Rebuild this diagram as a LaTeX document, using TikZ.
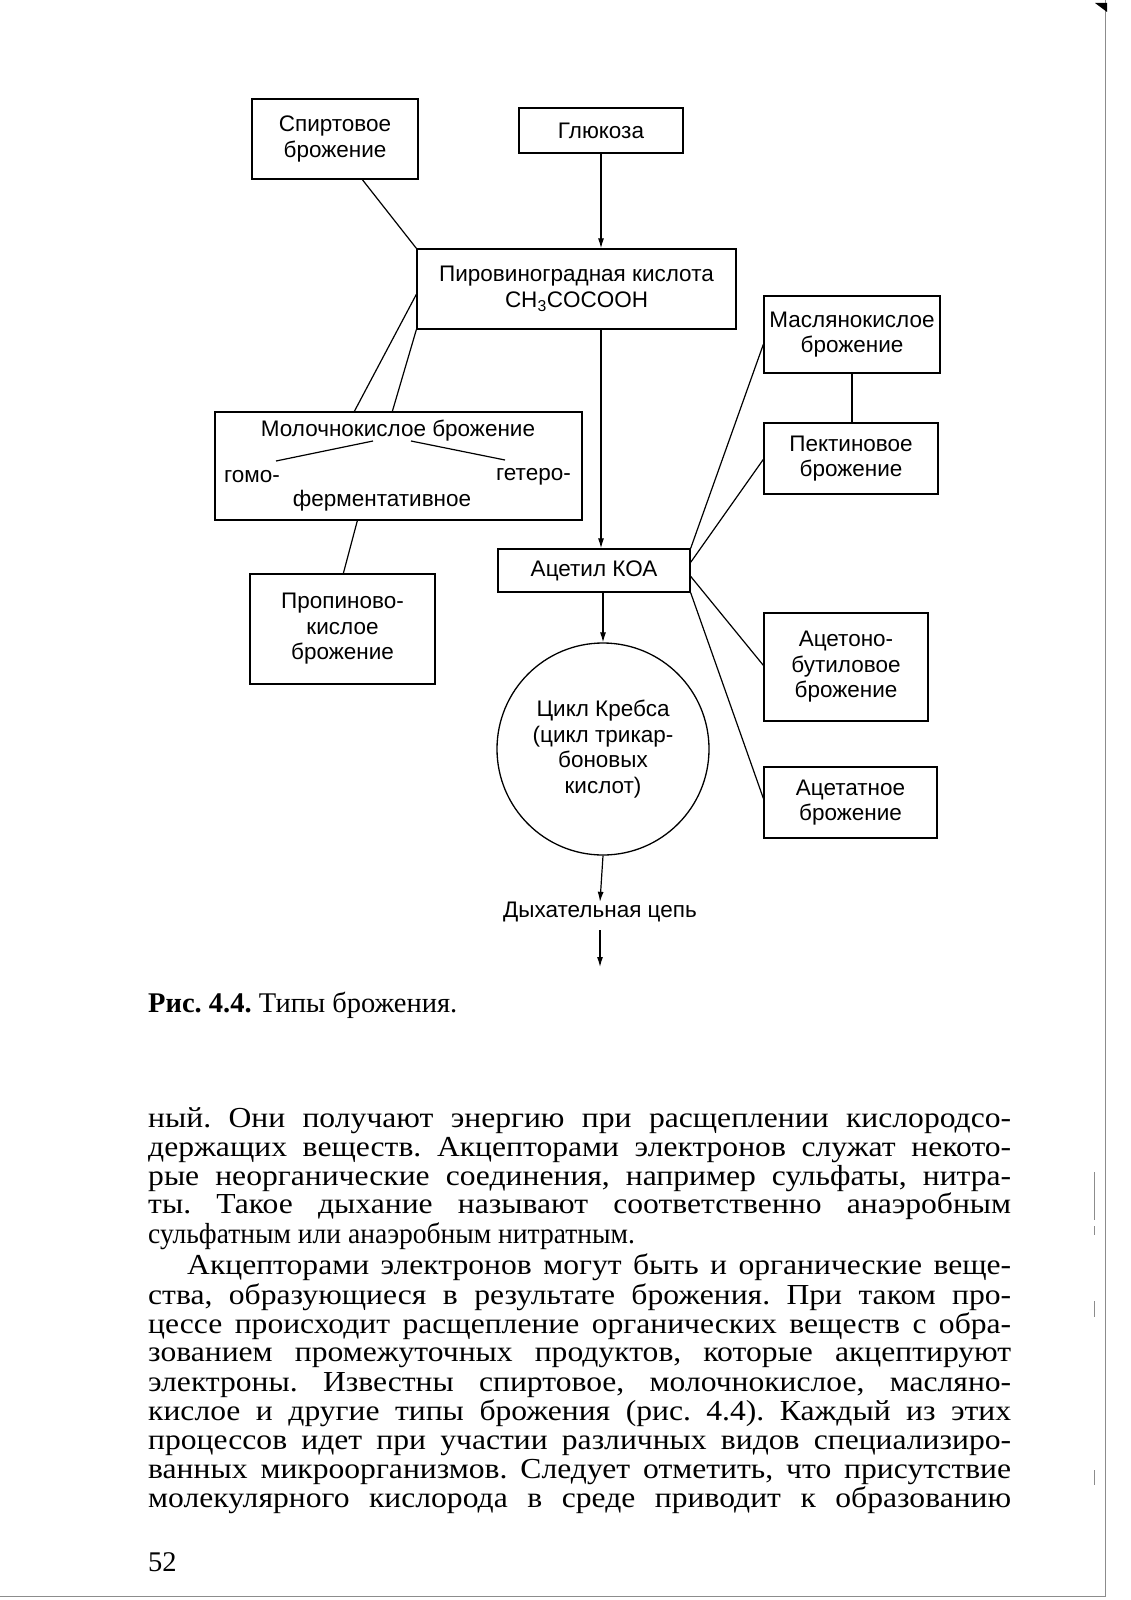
\documentclass[tikz,border=0pt]{standalone}
\usepackage{fontspec}
\setmainfont{Liberation Serif}
\newfontfamily\diagfont{Liberation Sans}
\newfontfamily\bodyfont{Liberation Serif}[FakeStretch=1.09]
\newfontfamily\bodyfontn{Liberation Serif}[FakeStretch=0.95]
\newfontfamily\capfont{Liberation Serif}
\usetikzlibrary{arrows.meta,calc}
\tikzset{
  dtext/.style={font=\diagfont\fontsize{22.5}{25.5}\selectfont, align=center, inner sep=0pt},
  fbox/.style={draw, line width=1.3pt, dtext},
  conn/.style={line width=1.2pt},
  arr/.style={conn, -{Latex[length=10pt,width=6pt]}},
  btext/.style={font=\bodyfont\fontsize{29}{29}\selectfont\frenchspacing, inner sep=0pt, anchor=base west},
  ntext/.style={font=\bodyfontn\fontsize{29}{29}\selectfont\frenchspacing, inner sep=0pt, anchor=base west},
  ctext/.style={font=\capfont\fontsize{28.5}{29}\selectfont\frenchspacing, inner sep=0pt, anchor=base west},
  artifact/.style={draw=black!45, line width=1pt}
}
\newcommand{\jl}[1]{\makebox[863pt][s]{#1}}
\begin{document}
\begin{tikzpicture}[x=1pt,y=-1pt]
\useasboundingbox[fill=white] (0,0) rectangle (1131,1600);

% boxes
\node[fbox, minimum width=166pt, minimum height=80pt] (spirt) at (335,139) {Спиртовое\\брожение};
\node[fbox, minimum width=164pt, minimum height=45pt] (gluk) at (601,130.5) {Глюкоза};
\node[fbox, minimum width=319pt, minimum height=80pt] (pyr) at (576.5,289) {Пировиноградная кислота\\CH\textsubscript{3}COCOOH};
\node[fbox, minimum width=176pt, minimum height=77pt] (masl) at (852,334.5) {Маслянокислое\\брожение};
\node[fbox, minimum width=174pt, minimum height=71pt] (pekt) at (851,458.5) {Пектиновое\\брожение};
\node[draw, line width=1.3pt, minimum width=367pt, minimum height=108pt, inner sep=0pt] (lac) at (398.5,466) {};
\node[dtext] (lacT) at (398,431) {Молочнокислое брожение};
\node[dtext, anchor=west] (homo) at (224,477) {гомо-};
\node[dtext, anchor=east] (hetero) at (571,477) {гетеро-};
\node[dtext] (ferm) at (382,501) {ферментативное};
\node[fbox, minimum width=185pt, minimum height=110pt] (prop) at (342.5,629) {Пропиново-\\кислое\\брожение};
\node[fbox, minimum width=192pt, minimum height=43pt] (acetyl) at (594,570.5) {Ацетил КОА};
\node[draw, circle, line width=1.3pt, minimum size=212pt, dtext] (krebs) at (603,749) {Цикл Кребса\\(цикл трикар-\\боновых\\кислот)};
\node[fbox, minimum width=164pt, minimum height=108pt] (aceton) at (846,667) {Ацетоно-\\бутиловое\\брожение};
\node[fbox, minimum width=173pt, minimum height=71pt] (acetat) at (850.5,802.5) {Ацетатное\\брожение};
\node[dtext] (resp) at (600,912) {Дыхательная цепь};
\coordinate (respend) at (600,967);

% lactic inner branches
\coordinate (lb1) at (373,441);
\coordinate (lb2) at (276,461);
\coordinate (rb1) at (411,441);
\coordinate (rb2) at (505,460);
\draw[conn] (lb1) -- (lb2);
\draw[conn] (rb1) -- (rb2);

% connectors
\draw[conn] ($(spirt.south west)+(111,0)$) -- (pyr.north west);
\draw[arr] (gluk.south) -- (gluk.south |- pyr.north);
\draw[arr] (pyr.south -| gluk.south) -- (acetyl.north -| gluk.south);
\draw[arr] (acetyl.south -| krebs.north) -- (krebs.north);
\draw[arr] (krebs.south) -- (resp.north);
\draw[arr] ($(resp.south)+(0,8)$) -- (respend);
\draw[conn] ($(pyr.north west)+(0,46)$) -- ($(lac.north west)+(140,0)$);
\draw[conn] (pyr.south west) -- ($(lac.north west)+(178,0)$);
\draw[conn] ($(lac.south west)+(143,0)$) -- ($(prop.north west)+(94,0)$);
\draw[conn] (masl.south) -- (masl.south |- pekt.north);
\draw[conn] (acetyl.north east) -- ($(masl.north west)+(0,49)$);
\draw[conn] ($(acetyl.north east)+(0,14)$) -- ($(pekt.north west)+(0,37)$);
\draw[conn] ($(acetyl.north east)+(0,28)$) -- ($(aceton.north west)+(0,53)$);
\draw[conn] (acetyl.south east) -- ($(acetat.north west)+(0,32)$);

% caption
\node[ctext] (cap) at (148,1012) {\textbf{Рис. 4.4.} Типы брожения.};

% body text
\node[btext] (l1) at (148,1127) {\jl{ный. Они получают энергию при расщеплении кислородсо-}};
\node[btext] (l2) at (148,1156) {\jl{держащих веществ. Акцепторами электронов служат некото-}};
\node[btext] (l3) at (148,1185) {\jl{рые неорганические соединения, например сульфаты, нитра-}};
\node[btext] (l4) at (148,1213) {\jl{ты. Такое дыхание называют соответственно анаэробным}};
\node[ntext] (l5) at (148,1243) {сульфатным или анаэробным нитратным.};
\node[btext] (l6) at (187,1274) {\makebox[824pt][s]{Акцепторами электронов могут быть и органические веще-}};
\node[btext] (l7) at (148,1304) {\jl{ства, образующиеся в результате брожения. При таком про-}};
\node[btext] (l8) at (148,1333) {\jl{цессе происходит расщепление органических веществ с обра-}};
\node[btext] (l9) at (148,1361) {\jl{зованием промежуточных продуктов, которые акцептируют}};
\node[btext] (l10) at (148,1391) {\jl{электроны. Известны спиртовое, молочнокислое, масляно-}};
\node[btext] (l11) at (148,1420) {\jl{кислое и другие типы брожения (рис. 4.4). Каждый из этих}};
\node[btext] (l12) at (148,1449) {\jl{процессов идет при участии различных видов специализиро-}};
\node[btext] (l13) at (148,1478) {\jl{ванных микроорганизмов. Следует отметить, что присутствие}};
\node[btext] (l14) at (148,1507) {\jl{молекулярного кислорода в среде приводит к образованию}};
\node[ctext] (pg) at (148,1571) {52};

% scan edge marks
\draw[artifact] (1105.5,0) -- (1105.5,1596);
\draw[artifact] (0,1596) -- (1105.5,1596);
\fill[black] (1095,3) -- (1107,3) -- (1107,12) -- cycle;
\draw[artifact, line width=0.8pt] (1094,1172) -- (1094,1220) (1094,1226) -- (1094,1235);
\draw[artifact, line width=0.8pt] (1094,1301) -- (1094,1317);
\draw[artifact, line width=0.8pt] (1094,1470) -- (1094,1485);
\end{tikzpicture}
\end{document}
